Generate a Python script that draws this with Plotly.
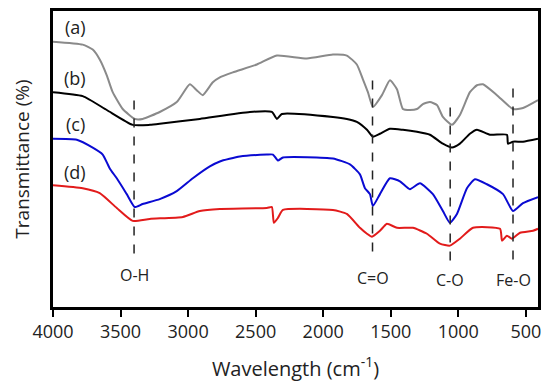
import plotly.graph_objects as go

# ---- data (wavenumber cm-1, transmittance in arbitrary units) ----
wn_a = [4000, 3780, 3706, 3654, 3602, 3558, 3484, 3395, 3336, 3210, 3084, 2987, 2936, 2891, 2817, 2765,
        2669, 2491, 2343, 2121, 1928, 1825, 1751, 1706, 1669, 1632, 1565, 1506, 1454, 1410, 1358, 1306,
        1262, 1210, 1158, 1114, 1047, 988, 914, 862, 817, 714, 595, 521, 410]
t_a = [268, 265, 260, 250, 234, 217, 200, 190, 190, 197, 207, 225, 219, 214, 227, 232,
       237, 245, 254, 251, 255, 254, 245, 230, 217, 202, 214, 229, 220, 200, 199, 200,
       205, 207, 204, 192, 184, 194, 217, 224, 225, 214, 200, 201, 209]

wn_b = [4000, 3780, 3602, 3410, 3284, 3210, 2913, 2543, 2380, 2343, 2306, 1928, 1825, 1751, 1676, 1632,
        1580, 1506, 1410, 1306, 1210, 1114, 1047, 988, 914, 862, 766, 640, 632, 595, 521, 410]
t_b = [217, 213, 199, 184, 184, 185, 190, 197, 197, 190, 195, 192, 190, 187, 179, 172,
       175, 180, 179, 177, 174, 165, 161, 165, 175, 179, 174, 174, 165, 167, 167, 170]

wn_c = [4000, 3824, 3706, 3632, 3580, 3528, 3454, 3395, 3336, 3210, 3084, 2965, 2839, 2765, 2617, 2417,
        2372, 2335, 2298, 1928, 1802, 1728, 1691, 1654, 1632, 1580, 1506, 1432, 1358, 1284, 1188, 1114,
        1062, 1010, 936, 877, 788, 669, 595, 521, 410]
t_c = [170, 169, 161, 154, 140, 130, 114, 101, 104, 109, 117, 130, 142, 147, 152, 154,
       154, 148, 151, 150, 144, 134, 120, 114, 102, 114, 130, 127, 119, 125, 114, 97,
       85, 94, 120, 129, 124, 114, 97, 105, 111]

wn_d = [4000, 3780, 3654, 3528, 3410, 3284, 3039, 2913, 2765, 2417, 2380, 2365, 2335, 2298, 1928, 1825,
        1728, 1676, 1639, 1580, 1528, 1454, 1336, 1232, 1136, 1062, 988, 891, 691, 676, 640, 603,
        543, 447, 410]
t_d = [123, 120, 115, 100, 87, 89, 91, 97, 99, 100, 101, 85, 90, 98, 98, 94,
       80, 74, 71, 77, 84, 80, 80, 74, 64, 62, 69, 80, 79, 67, 72, 69,
       75, 77, 79]

series_names = ["(a)", "(b)", "(c)", "(d)"]
series_colors = ["#8a8a8a", "#000000", "#0a0ad2", "#e21b1b"]
label_y = [283, 231, 185, 136]
label_x = 3835

band_pos = [3400, 1635, 1060, 595]
band_labels = ["O-H", "C=O", "C-O", "Fe-O"]
band_top = [209, 230, 202, 221]
band_bottom = [54, 56, 47, 48]
band_label_y = [32, 29, 27, 27]

x_ticks = [4000, 3500, 3000, 2500, 2000, 1500, 1000, 500]

FONT = "Open Sans"

fig = go.Figure()
for wn, t, name, col in zip([wn_a, wn_b, wn_c, wn_d], [t_a, t_b, t_c, t_d], series_names, series_colors):
    fig.add_trace(go.Scatter(x=wn, y=t, mode="lines", name=name,
                             line=dict(color=col, width=2, shape="spline", smoothing=0.5),
                             showlegend=False, hoverinfo="skip"))

for name, ly in zip(series_names, label_y):
    fig.add_annotation(x=label_x, y=ly, text=name, showarrow=False,
                       font=dict(family=FONT, size=18, color="#222"), xanchor="center", yanchor="middle")

for bp, bl, bt, bb, by in zip(band_pos, band_labels, band_top, band_bottom, band_label_y):
    fig.add_shape(type="line", x0=bp, x1=bp, y0=bb, y1=bt, xref="x", yref="y",
                  line=dict(color="#222", width=1.5, dash="dash"))
    fig.add_annotation(x=bp, y=by, text=bl, showarrow=False,
                       font=dict(family=FONT, size=16, color="#222"), xanchor="center", yanchor="middle")

fig.update_layout(
    width=550, height=390,
    margin=dict(l=53, r=12, t=8, b=83),
    paper_bgcolor="white", plot_bgcolor="white",
    font=dict(family=FONT, color="#222"),
    xaxis=dict(range=[4000, 410], tickvals=x_ticks, ticks="outside", ticklen=7, tickwidth=1.5,
               tickcolor="black", showline=True, linecolor="black", linewidth=2.5, mirror=True,
               showgrid=False, zeroline=False, tickfont=dict(family=FONT, size=18, color="#222"),
               title=dict(text="Wavelength (cm<sup>-1</sup>)", font=dict(family=FONT, size=20, color="#222"),
                          standoff=20)),
    yaxis=dict(range=[0, 299], showticklabels=False, ticks="", showline=True, linecolor="black",
               linewidth=2.5, mirror=True, showgrid=False, zeroline=False,
               title=dict(text="Transmittance (%)", font=dict(family=FONT, size=19, color="#222"),
                          standoff=16)),
)

fig.write_html("out.html", config={"displayModeBar": False},
               post_script="document.body.style.margin='0';document.body.style.overflow='hidden';")
